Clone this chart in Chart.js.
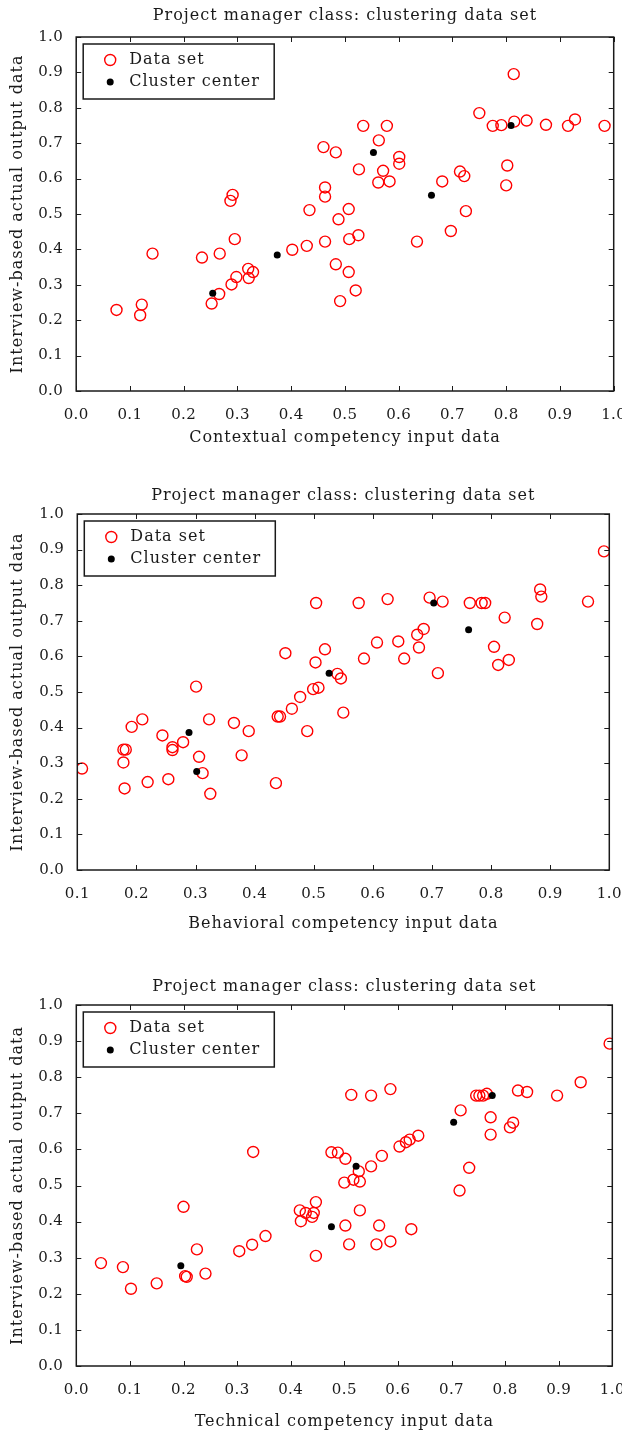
<!DOCTYPE html>
<html lang="en">
<head>
<meta charset="UTF-8">
<title>Project manager class: clustering data set</title>
<script src="https://cdn.jsdelivr.net/npm/chart.js@4.4.0/dist/chart.umd.min.js"></script>
<style>
    body { margin: 0; width: 622px; height: 1431px; overflow: hidden; background: #fff; position: relative; }
    .panel { position: absolute; left: 0; width: 622px; }
</style>
</head>
<body>
<div class="panel" style="top:0px;height:447px"><canvas id="contextual"></canvas></div>
<div class="panel" style="top:480px;height:453px"><canvas id="behavioral"></canvas></div>
<div class="panel" style="top:971px;height:460px"><canvas id="technical"></canvas></div>
<script>
// --- data ---
var contextualX = [0.075, 0.119, 0.122, 0.142, 0.234, 0.252, 0.266, 0.267, 0.291, 0.287, 0.295, 0.289, 0.298, 0.320, 0.321, 0.329, 0.402, 0.429, 0.434,
    0.460, 0.483, 0.463, 0.463, 0.507, 0.488, 0.463, 0.508, 0.525, 0.483, 0.507, 0.520, 0.491, 0.534, 0.578, 0.563, 0.526, 0.571, 0.562, 0.583,
    0.601, 0.601, 0.634, 0.681, 0.697, 0.714, 0.722, 0.725, 0.750, 0.775, 0.791, 0.815, 0.838, 0.874, 0.915, 0.928, 0.983, 0.814, 0.802, 0.800];
var contextualY = [0.229, 0.214, 0.244, 0.388, 0.377, 0.247, 0.274, 0.388, 0.554, 0.537, 0.429, 0.301, 0.322, 0.345, 0.319, 0.336, 0.399, 0.410, 0.511,
    0.689, 0.674, 0.575, 0.549, 0.514, 0.485, 0.422, 0.429, 0.440, 0.358, 0.336, 0.284, 0.254, 0.749, 0.749, 0.708, 0.626, 0.622, 0.589, 0.592,
    0.661, 0.642, 0.422, 0.592, 0.452, 0.620, 0.607, 0.508, 0.785, 0.749, 0.751, 0.761, 0.764, 0.752, 0.749, 0.767, 0.749, 0.895, 0.637, 0.581];
var contextualCenterX = [0.254, 0.374, 0.553, 0.661, 0.809];
var contextualCenterY = [0.276, 0.384, 0.674, 0.553, 0.750];

var behavioralX = [0.108, 0.178, 0.182, 0.178, 0.180, 0.192, 0.210, 0.219, 0.244, 0.254, 0.261, 0.261, 0.279, 0.301, 0.306, 0.312, 0.325, 0.323,
    0.365, 0.390, 0.378, 0.436, 0.439, 0.443, 0.452, 0.463, 0.477, 0.489, 0.499, 0.504, 0.503,
    0.508, 0.519, 0.540, 0.546, 0.550, 0.576, 0.585, 0.607, 0.625, 0.643, 0.653, 0.678, 0.675, 0.686, 0.696, 0.718, 0.710, 0.764, 0.784, 0.790,
    0.805, 0.812, 0.830, 0.823, 0.878, 0.883, 0.885, 0.964, 0.991];
var behavioralY = [0.285, 0.338, 0.338, 0.302, 0.229, 0.402, 0.423, 0.247, 0.378, 0.255, 0.345, 0.337, 0.359, 0.515, 0.318, 0.272, 0.214, 0.423,
    0.413, 0.390, 0.322, 0.244, 0.431, 0.431, 0.609, 0.453, 0.486, 0.390, 0.508, 0.750, 0.583,
    0.512, 0.620, 0.551, 0.538, 0.442, 0.750, 0.594, 0.639, 0.761, 0.642, 0.594, 0.625, 0.661, 0.677, 0.765, 0.754, 0.553, 0.750, 0.750, 0.750,
    0.627, 0.576, 0.590, 0.709, 0.691, 0.788, 0.768, 0.754, 0.895];
var behavioralCenterX = [0.289, 0.302, 0.526, 0.703, 0.762];
var behavioralCenterY = [0.386, 0.277, 0.553, 0.750, 0.675];

var technicalX = [0.046, 0.087, 0.102, 0.150, 0.200, 0.203, 0.206, 0.225, 0.241, 0.304, 0.328, 0.353, 0.330, 0.417, 0.419, 0.428, 0.440, 0.443, 0.447, 0.447,
    0.476, 0.488, 0.502, 0.500, 0.517, 0.529, 0.527, 0.550, 0.570, 0.603, 0.615, 0.622, 0.638, 0.513, 0.550, 0.586, 0.502, 0.529, 0.509, 0.565,
    0.560, 0.586, 0.625, 0.717, 0.733, 0.715, 0.746, 0.752, 0.759, 0.766, 0.773, 0.773, 0.809, 0.815, 0.824, 0.841, 0.897, 0.941, 0.995];
var technicalY = [0.285, 0.274, 0.214, 0.229, 0.441, 0.249, 0.247, 0.323, 0.256, 0.318, 0.336, 0.360, 0.593, 0.431, 0.401, 0.424, 0.413, 0.424, 0.454, 0.305,
    0.592, 0.591, 0.574, 0.508, 0.516, 0.511, 0.539, 0.553, 0.582, 0.608, 0.620, 0.627, 0.638, 0.751, 0.749, 0.767, 0.389, 0.431, 0.337, 0.389,
    0.337, 0.345, 0.379, 0.708, 0.549, 0.486, 0.749, 0.749, 0.749, 0.754, 0.689, 0.641, 0.661, 0.674, 0.763, 0.759, 0.749, 0.786, 0.893];
var technicalCenterX = [0.195, 0.476, 0.522, 0.704, 0.776];
var technicalCenterY = [0.278, 0.386, 0.553, 0.675, 0.749];

var chartTitle = 'Project manager class: clustering data set';
var yTitle = 'Interview-based actual output data';
var seriesNames = ['Data set', 'Cluster center'];

var serif = 'DejaVu Serif';
var ink = '#1a1a1a';

function pairs(xs, ys) {
    return xs.map(function (x, i) { return {x: x, y: ys[i]}; });
}

// the reference type is wide (Computer Modern), so titles get a little letter spacing,
// tick labels (drawn after the datasets, ticks.z = 1) a little less
var framePlugin = {
    id: 'frame',
    beforeDraw: function (chart) {
        chart.ctx.letterSpacing = '1px';
    },
    afterDatasetsDraw: function (chart) {
        chart.ctx.letterSpacing = '0.4px';
    },
    afterDraw: function (chart) {
        var ctx = chart.ctx, a = chart.chartArea, sx = chart.scales.x, sy = chart.scales.y;
        ctx.save();
        ctx.strokeStyle = ink;
        ctx.lineWidth = 1.5;
        ctx.strokeRect(a.left, a.top, a.right - a.left, a.bottom - a.top);
        ctx.lineWidth = 1;
        ctx.beginPath();
        sx.ticks.forEach(function (t) {
            var px = Math.round(sx.getPixelForValue(t.value)) + 0.5;
            ctx.moveTo(px, a.bottom); ctx.lineTo(px, a.bottom - 5);
            ctx.moveTo(px, a.top); ctx.lineTo(px, a.top + 5);
        });
        sy.ticks.forEach(function (t) {
            var py = Math.round(sy.getPixelForValue(t.value)) + 0.5;
            ctx.moveTo(a.left, py); ctx.lineTo(a.left + 5, py);
            ctx.moveTo(a.right, py); ctx.lineTo(a.right - 5, py);
        });
        ctx.stroke();

        // boxed legend, upper left
        var lx = a.left + 7, ly = a.top + 7, lw = 191, lh = 55;
        ctx.fillStyle = '#fff';
        ctx.fillRect(lx, ly, lw, lh);
        ctx.lineWidth = 1.5;
        ctx.strokeRect(lx, ly, lw, lh);
        ctx.beginPath();
        ctx.strokeStyle = '#ff0000';
        ctx.lineWidth = 1.4;
        ctx.arc(lx + 27, ly + 16, 5.5, 0, Math.PI * 2);
        ctx.stroke();
        ctx.beginPath();
        ctx.fillStyle = '#000';
        ctx.arc(lx + 27, ly + 38, 3.5, 0, Math.PI * 2);
        ctx.fill();
        ctx.letterSpacing = '1px';
        ctx.fillStyle = ink;
        ctx.font = '16px "' + serif + '"';
        ctx.textBaseline = 'middle';
        ctx.fillText(seriesNames[0], lx + 46, ly + 16);
        ctx.fillText(seriesNames[1], lx + 46, ly + 38);
        ctx.restore();
        ctx.letterSpacing = '0px';
    }
};

function makeChart(id, xs, ys, cxs, cys, cfg) {
    var ctx = document.getElementById(id).getContext('2d');
    var tickFont = {family: serif, size: 15};
    var titleFont = {family: serif, size: 16};
    return new Chart(ctx, {
        type: 'scatter',
        data: {
            datasets: [{
                label: seriesNames[1],
                data: pairs(cxs, cys),
                pointStyle: 'circle',
                pointRadius: 3.5,
                pointBackgroundColor: '#000',
                pointBorderColor: '#000',
                pointBorderWidth: 0,
                order: 0
            }, {
                label: seriesNames[0],
                data: pairs(xs, ys),
                pointStyle: 'circle',
                pointRadius: 5.5,
                pointBackgroundColor: 'rgba(0,0,0,0)',
                pointBorderColor: '#ff0000',
                pointBorderWidth: 1.4,
                order: 1
            }]
        },
        options: {
            responsive: true,
            maintainAspectRatio: false,
            animation: false,
            layout: {padding: {left: 0, right: cfg.padRight, top: 0, bottom: 0}},
            plugins: {
                legend: {display: false},
                tooltip: {enabled: false}
            },
            scales: {
                // top axis only carries the panel title, centred over the plot
                xTop: {
                    type: 'linear',
                    position: 'top',
                    min: cfg.xMin,
                    max: 1,
                    grid: {display: false},
                    border: {display: false},
                    ticks: {display: false},
                    title: {
                        display: true,
                        text: chartTitle,
                        color: ink,
                        font: titleFont,
                        padding: {top: 6.4, bottom: 0}
                    },
                    afterFit: function (s) {
                        s.height = cfg.topHeight;
                        s.paddingLeft = 0;
                        s.paddingRight = 0;
                    }
                },
                x: {
                    type: 'linear',
                    position: 'bottom',
                    min: cfg.xMin,
                    max: 1,
                    grid: {display: false},
                    border: {display: false},
                    ticks: {
                        z: 1,
                        stepSize: 0.1,
                        autoSkip: false,
                        maxRotation: 0,
                        padding: 7,
                        color: ink,
                        font: tickFont,
                        callback: function (v) { return Number(v).toFixed(1); }
                    },
                    title: {
                        display: true,
                        text: cfg.xTitle,
                        color: ink,
                        font: titleFont,
                        padding: {top: 0, bottom: 0}
                    },
                    afterFit: function (s) {
                        s.height = cfg.xHeight;
                        s.paddingRight = 0;
                    }
                },
                y: {
                    type: 'linear',
                    min: 0,
                    max: 1,
                    grid: {display: false},
                    border: {display: false},
                    ticks: {
                        z: 1,
                        stepSize: 0.1,
                        padding: 5,
                        color: ink,
                        font: tickFont,
                        callback: function (v) { return Number(v).toFixed(1); }
                    },
                    title: {
                        display: true,
                        text: yTitle,
                        color: ink,
                        font: titleFont,
                        padding: {top: 8.4, bottom: 0}
                    },
                    afterFit: function (s) {
                        s.width = cfg.yWidth;
                    }
                }
            }
        },
        plugins: [framePlugin]
    });
}

makeChart('contextual', contextualX, contextualY, contextualCenterX, contextualCenterY, {
    xTitle: 'Contextual competency input data', xMin: 0,
    yWidth: 76.2, padRight: 8.3, topHeight: 37, xHeight: 56
});
makeChart('behavioral', behavioralX, behavioralY, behavioralCenterX, behavioralCenterY, {
    xTitle: 'Behavioral competency input data', xMin: 0.1,
    yWidth: 77.3, padRight: 12.7, topHeight: 34, xHeight: 63
});
makeChart('technical', technicalX, technicalY, technicalCenterX, technicalCenterY, {
    xTitle: 'Technical competency input data', xMin: 0,
    yWidth: 76.3, padRight: 9.7, topHeight: 34, xHeight: 65
});
</script>
</body>
</html>
